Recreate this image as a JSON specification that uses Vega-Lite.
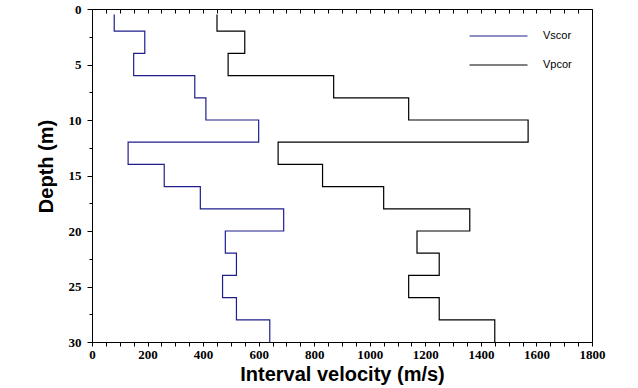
{
  "$schema": "https://vega.github.io/schema/vega-lite/v6.json",
  "width": 500,
  "height": 333,
  "autosize": {"type": "none"},
  "padding": {"left": 92, "top": 9, "right": 46, "bottom": 46},
  "background": "white",
  "config": {
    "view": {"stroke": "black", "strokeWidth": 1},
    "axis": {"grid": false, "domain": false, "tickColor": "black", "labelColor": "black", "titleColor": "black", "tickWidth": 1}
  },
  "data": {
    "values": [
      {"series": "Vs", "depth": 0.5, "velocity": 80},
      {"series": "Vs", "depth": 2, "velocity": 190},
      {"series": "Vs", "depth": 4, "velocity": 150},
      {"series": "Vs", "depth": 6, "velocity": 370},
      {"series": "Vs", "depth": 8, "velocity": 410},
      {"series": "Vs", "depth": 10, "velocity": 600},
      {"series": "Vs", "depth": 12, "velocity": 130},
      {"series": "Vs", "depth": 14, "velocity": 260},
      {"series": "Vs", "depth": 16, "velocity": 390},
      {"series": "Vs", "depth": 18, "velocity": 690},
      {"series": "Vs", "depth": 20, "velocity": 480},
      {"series": "Vs", "depth": 22, "velocity": 520},
      {"series": "Vs", "depth": 24, "velocity": 470},
      {"series": "Vs", "depth": 26, "velocity": 520},
      {"series": "Vs", "depth": 28, "velocity": 640},
      {"series": "Vs", "depth": 30, "velocity": 640},
      {"series": "Vp", "depth": 0.5, "velocity": 450},
      {"series": "Vp", "depth": 2, "velocity": 550},
      {"series": "Vp", "depth": 4, "velocity": 490},
      {"series": "Vp", "depth": 6, "velocity": 870},
      {"series": "Vp", "depth": 8, "velocity": 1140},
      {"series": "Vp", "depth": 10, "velocity": 1570},
      {"series": "Vp", "depth": 12, "velocity": 670},
      {"series": "Vp", "depth": 14, "velocity": 830},
      {"series": "Vp", "depth": 16, "velocity": 1050},
      {"series": "Vp", "depth": 18, "velocity": 1360},
      {"series": "Vp", "depth": 20, "velocity": 1170},
      {"series": "Vp", "depth": 22, "velocity": 1250},
      {"series": "Vp", "depth": 24, "velocity": 1140},
      {"series": "Vp", "depth": 26, "velocity": 1250},
      {"series": "Vp", "depth": 28, "velocity": 1450},
      {"series": "Vp", "depth": 30, "velocity": 1450}
    ]
  },
  "layer": [
    {
      "mark": {"type": "line", "interpolate": "step-before", "strokeWidth": 1.2, "clip": true},
      "encoding": {
        "x": {
          "field": "velocity", "type": "quantitative",
          "scale": {"domain": [0, 1800], "nice": false, "zero": false},
          "axis": {
            "orient": "bottom",
            "values": [0,50,100,150,200,250,300,350,400,450,500,550,600,650,700,750,800,850,900,950,1000,1050,1100,1150,1200,1250,1300,1350,1400,1450,1500,1550,1600,1650,1700,1750,1800],
            "format": "d",
            "labelExpr": "datum.value % 200 == 0 ? datum.label : ''",
            "labelOverlap": false,
            "labelBound": false,
            "labelFlush": false,
            "tickSize": 4,
            "labelPadding": 2,
            "labelFont": "Liberation Serif",
            "labelFontWeight": "bold",
            "labelFontSize": 13,
            "title": "Interval velocity  (m/s)",
            "titleFont": "Liberation Sans",
            "titleFontWeight": "bold",
            "titleFontSize": 20,
            "titleBaseline": "alphabetic",
            "titleY": 38
          }
        },
        "y": {
          "field": "depth", "type": "quantitative",
          "scale": {"domain": [0, 30], "nice": false, "zero": false, "reverse": true},
          "axis": {
            "orient": "left",
            "values": [0, 5, 10, 15, 20, 25, 30],
            "tickSize": 5,
            "labelPadding": 6,
            "labelOverlap": false,
            "labelBound": false,
            "labelFlush": false,
            "labelFont": "Liberation Serif",
            "labelFontWeight": "bold",
            "labelFontSize": 13,
            "title": "Depth  (m)",
            "titleFont": "Liberation Sans",
            "titleFontWeight": "bold",
            "titleFontSize": 20,
            "titleBaseline": "alphabetic",
            "titleAngle": -90,
            "titleAlign": "center",
            "titleX": -40,
            "titleY": 157
          }
        },
        "order": {"field": "depth", "type": "quantitative"},
        "color": {
          "field": "series", "type": "nominal",
          "scale": {"domain": ["Vs", "Vp"], "range": ["#1f1f8c", "#000000"]},
          "legend": {
            "orient": "none",
            "legendX": 377,
            "legendY": 22,
            "title": null,
            "padding": 0,
            "symbolType": "stroke",
            "symbolSize": 3364,
            "symbolStrokeWidth": 1,
            "clipHeight": 10,
            "labelExpr": "datum.label + 'cor'",
            "labelFont": "Liberation Sans",
            "labelFontSize": 11,
            "labelColor": "black",
            "labelOffset": 15,
            "labelBaseline": "middle",
            "rowPadding": 18
          }
        }
      }
    },
    {
      "mark": {"type": "line", "opacity": 0},
      "encoding": {
        "x": {
          "field": "velocity", "type": "quantitative",
          "axis": {
            "orient": "top",
            "values": [0,50,100,150,200,250,300,350,400,450,500,550,600,650,700,750,800,850,900,950,1000,1050,1100,1150,1200,1250,1300,1350,1400,1450,1500,1550,1600,1650,1700,1750,1800],
            "labels": false,
            "tickSize": -4,
            "title": null
          }
        },
        "y": {
          "field": "depth", "type": "quantitative",
          "axis": {
            "orient": "left",
            "values": [2.5, 7.5, 12.5, 17.5, 22.5, 27.5],
            "labels": false,
            "tickSize": 3,
            "title": null
          }
        },
        "detail": {"field": "series"},
        "order": {"field": "depth", "type": "quantitative"}
      }
    }
  ],
  "resolve": {"axis": {"x": "independent", "y": "independent"}}
}
